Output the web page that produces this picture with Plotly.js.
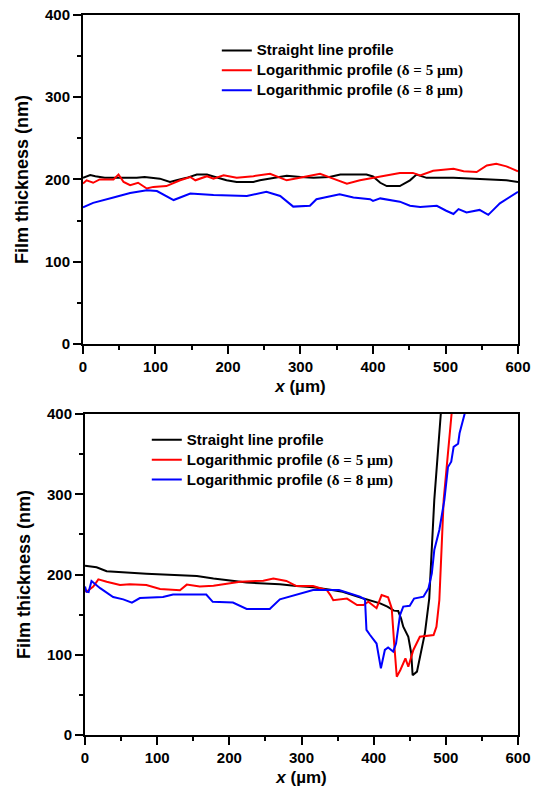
<!DOCTYPE html>
<html>
<head>
<meta charset="utf-8">
<script src="https://cdn.plot.ly/plotly-3.0.1.min.js"></script>
<style>
  html, body { margin: 0; padding: 0; background: #ffffff; }
  #chart { width: 538px; height: 788px; }
</style>
</head>
<body>
<div id="chart"></div>
<script>
// ---------- Data ----------
const seriesNames = [
  'Straight line profile',
  'Logarithmic profile <span style="font-family:\'Liberation Serif\', serif">(δ = 5 µm)</span>',
  'Logarithmic profile <span style="font-family:\'Liberation Serif\', serif">(δ = 8 µm)</span>'
];

// Top panel
const xTopStraight = [0, 10, 17, 30, 74, 85, 106, 120, 129, 143, 157, 171, 180, 198, 212, 235, 244, 262, 281, 300, 318, 340, 355, 391, 400, 410, 419, 437, 451, 460, 474, 511, 557, 584, 600];
const yTopStraight = [202, 205.5, 204, 202, 202, 203, 201, 197, 199, 202, 206, 206, 203.6, 199, 197, 197, 199, 202, 204.5, 203, 202, 203, 206, 206, 203.6, 196, 192, 192, 199, 206, 202, 202, 200, 199, 197];

const xTopLog5 = [0, 5, 14, 23, 42, 49, 56, 65, 76, 88, 97, 115, 134, 148, 155, 171, 180, 194, 212, 235, 258, 272, 281, 299, 327, 345, 364, 382, 400, 419, 437, 455, 465, 483, 511, 525, 543, 557, 570, 584, 600];
const yTopLog5 = [195, 199, 196, 200, 200, 206, 197, 193, 196, 189, 191, 192, 199, 203, 199, 204, 201, 205, 202, 204, 207, 202, 199, 202, 207, 201, 195, 199, 202, 205, 208, 208, 205, 210.6, 213, 210, 209, 217, 219, 216, 210];

const xTopLog8 = [0, 14, 42, 65, 88, 102, 125, 148, 180, 226, 253, 272, 290, 313, 322, 354, 373, 396, 400, 410, 437, 451, 465, 488, 501, 511, 518, 529, 547, 559, 575, 600];
const yTopLog8 = [166, 171.6, 178, 183.6, 187, 186, 175, 183, 181, 180, 185, 180, 167, 168, 176, 182, 178, 176, 174, 177, 173, 168, 166.6, 168, 162, 158, 164, 160, 163, 157, 171, 185];

// Bottom panel
const xBotStraight = [0, 16, 30, 62, 85, 155, 178, 224, 270, 293, 316, 340, 357, 386, 409, 419, 428, 434, 438, 441, 448, 452, 454, 460, 467, 471, 477, 484, 493, 495];
const yBotStraight = [211, 209, 204, 202, 201, 198, 195, 190, 188, 185.6, 184, 181, 178.6, 170, 164, 160, 155, 154.5, 145, 135, 122.5, 102, 74.5, 79, 110, 127, 170, 293, 400, 430];

const xBotLog5 = [0, 2, 11.5, 18.5, 30, 48.5, 62, 85, 104, 131.6, 141, 159, 178, 201, 215, 247, 261, 279, 293, 316, 326, 335, 340, 344, 363, 377, 386, 392.6, 404, 411, 420, 425, 428.4, 432, 437, 444, 448, 455, 464, 483, 487, 491, 497, 509, 511];
const yBotLog5 = [180, 178.6, 185, 194, 191, 187, 188, 187, 182, 180.4, 187.4, 185, 186, 189, 191, 192.3, 195, 192, 185.6, 185.6, 183, 180.7, 174.4, 168, 170, 162, 162, 166, 158, 174.4, 171.5, 158, 114, 72.6, 81, 95.5, 85, 106, 122.5, 124.6, 135, 168, 293, 400, 430];

const xBotLog8 = [0, 2, 5, 9, 21, 39, 53, 65, 76, 108, 122, 168, 177, 205, 224, 256, 270, 293, 316, 352, 381, 388, 390, 395, 404, 410, 415.5, 420, 427, 431, 436.5, 441, 450, 456, 469, 476, 480.6, 484, 491, 498, 503, 507.5, 510.8, 517, 519, 526, 528];
const yBotLog8 = [185, 178.6, 178, 192, 183, 172, 169, 165, 170.6, 172, 175, 175, 166, 165, 157, 157, 169, 175, 180.7, 180.7, 172.4, 169, 131, 124.6, 114, 83, 106, 109, 104, 114, 149.5, 160, 161, 170, 172.4, 183, 201.5, 230.5, 255.5, 293, 334, 340.6, 359, 363, 376, 400, 415];

const xTicks = [0, 100, 200, 300, 400, 500, 600];
const yTicks = [0, 100, 200, 300, 400];

// ---------- Styling ----------
const colors = ['#000000', '#ff0000', '#0000ff'];
const FONT = 'Liberation Sans, Arial, sans-serif';

function mkTrace(x, y, i, xa, ya, leg) {
  return {
    x: x, y: y,
    name: '<span style="font-size:15px">' + seriesNames[i] + '</span>',
    type: 'scatter', mode: 'lines',
    line: {color: colors[i], width: 2},
    xaxis: xa, yaxis: ya, legend: leg, hoverinfo: 'skip'
  };
}

const traces = [
  mkTrace(xTopStraight, yTopStraight, 0, 'x', 'y', 'legend'),
  mkTrace(xTopLog5, yTopLog5, 1, 'x', 'y', 'legend'),
  mkTrace(xTopLog8, yTopLog8, 2, 'x', 'y', 'legend'),
  mkTrace(xBotStraight, yBotStraight, 0, 'x2', 'y2', 'legend2'),
  mkTrace(xBotLog5, yBotLog5, 1, 'x2', 'y2', 'legend2'),
  mkTrace(xBotLog8, yBotLog8, 2, 'x2', 'y2', 'legend2')
];

function xAxis(domain, anchor) {
  return {
    domain: domain, anchor: anchor, range: [0, 600],
    tickmode: 'array', tickvals: xTicks, ticktext: xTicks.map(String),
    showline: true, linewidth: 2, linecolor: '#000', mirror: true,
    ticks: 'outside', ticklen: 8, tickwidth: 2, tickcolor: '#000',
    minor: {tickmode: 'linear', tick0: 0, dtick: 50, ticks: 'outside', ticklen: 4, tickwidth: 2, tickcolor: '#000', showgrid: false},
    showgrid: false, zeroline: false,
    tickfont: {family: FONT, size: 15, color: '#000', weight: 'bold'},
    title: {text: '<i>x</i> (µm)', font: {family: FONT, size: 17, color: '#000', weight: 'bold'}, standoff: 6}
  };
}
function yAxis(domain, anchor) {
  return {
    domain: domain, anchor: anchor, range: [0, 400],
    tickmode: 'array', tickvals: yTicks, ticktext: yTicks.map(String),
    showline: true, linewidth: 2, linecolor: '#000', mirror: true,
    ticks: 'outside', ticklen: 8, tickwidth: 2, tickcolor: '#000',
    minor: {tickmode: 'linear', tick0: 0, dtick: 50, ticks: 'outside', ticklen: 4, tickwidth: 2, tickcolor: '#000', showgrid: false},
    showgrid: false, zeroline: false,
    tickfont: {family: FONT, size: 15, color: '#000', weight: 'bold'},
    title: {text: 'Film thickness (nm)', font: {family: FONT, size: 18, color: '#000', weight: 'bold'}, standoff: 12}
  };
}

const legendFont = {family: FONT, size: 13, color: '#000', weight: 'bold'};

const layout = {
  width: 538, height: 788,
  margin: {l: 60, r: 20, t: 15, b: 53},
  paper_bgcolor: '#ffffff', plot_bgcolor: '#ffffff',
  showlegend: true,
  xaxis: xAxis([0.0502, 1], 'y'),
  yaxis: yAxis([0.5431, 1], 'x'),
  xaxis2: xAxis([0.0546, 1], 'y2'),
  yaxis2: yAxis([0, 0.4458], 'x2'),
  legend: {x: 0.3424, y: 0.9716, xanchor: 'left', yanchor: 'top', bgcolor: 'rgba(0,0,0,0)', font: legendFont, tracegroupgap: 0},
  legend2: {x: 0.1895, y: 0.4308, xanchor: 'left', yanchor: 'top', bgcolor: 'rgba(0,0,0,0)', font: legendFont, tracegroupgap: 0}
};

Plotly.newPlot('chart', traces, layout, {staticPlot: true, displayModeBar: false});
</script>
</body>
</html>
